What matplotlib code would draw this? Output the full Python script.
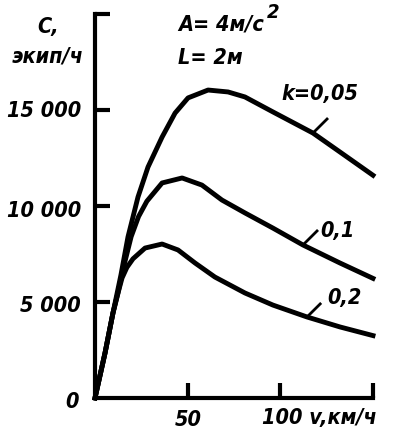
import matplotlib
matplotlib.use("Agg")
import matplotlib.pyplot as plt
from matplotlib import font_manager as fm

# speed v, km/h and capacity C, veh/h
v_005 = [0, 5.4, 9.7, 14.0, 17.8, 23.2, 28.6, 36.2, 43.2, 50.2, 61.0, 71.8, 80.9, 96.0, 117.6, 132.2, 150]
c_005 = [0, 2340, 4430, 6410, 8390, 10470, 12030, 13590, 14840, 15630, 16040, 15940, 15680, 14900, 13800, 12810, 11600]

v_01 = [0, 5.4, 9.7, 12.4, 15.5, 19.5, 23.5, 28.0, 36.2, 47.0, 57.7, 68.5, 80.9, 96.0, 112.2, 132.2, 150]
c_01 = [0, 2340, 4430, 5470, 6850, 8400, 9450, 10250, 11200, 11460, 11090, 10310, 9640, 8850, 7970, 7030, 6230]

v_02 = [0, 5.4, 9.7, 12.4, 14.6, 17.2, 20.5, 27.0, 36.2, 44.8, 54.0, 64.7, 80.9, 96.0, 114.4, 132.2, 150]
c_02 = [0, 2340, 4430, 5470, 6250, 6800, 7250, 7810, 8020, 7710, 7030, 6300, 5470, 4840, 4220, 3700, 3250]

k_labels = ["k=0,05", "0,1", "0,2"]

# a narrow bold italic face looks closest to the scan; fall back to Liberation Sans
narrow = [f for f in fm.fontManager.ttflist
          if "Narrow" in f.name or "Condensed" in f.name or "condensed" in str(f.stretch)]
if narrow:
    fam = narrow[0].name
    stretch = narrow[0].stretch
    fs = 15.5
else:
    fam = "Liberation Sans"
    stretch = "normal"
    fs = 15
font = dict(family=[fam, "DejaVu Sans"], weight="bold", style="italic", stretch=stretch)

fig = plt.figure(figsize=(4, 4.44), dpi=100)
ax = fig.add_axes([95/400, 1-398/444, (373-95)/400, (398-14)/444])

for v, c in [(v_005, c_005), (v_01, c_01), (v_02, c_02)]:
    ax.plot(v, c, color="black", lw=3.5, solid_joinstyle="round", clip_on=False)

ax.set_xlim(0, 150)
ax.set_ylim(0, 20000)
for s in ["top", "right"]:
    ax.spines[s].set_visible(False)
for s in ["left", "bottom"]:
    ax.spines[s].set_linewidth(3)
ax.set_xticks([50, 100, 150])
ax.set_yticks([5000, 10000, 15000, 20000])
ax.set_xticklabels([])
ax.set_yticklabels([])
ax.tick_params(direction="in", length=11, width=3)

# leader lines to the curve labels
leaders = [((117.6, 13800), (125.2, 14530)),
           ((112.2, 7970), (119.8, 8700)),
           ((114.4, 4220), (121.5, 4900))]
for a, b in leaders:
    ax.plot([a[0], b[0]], [a[1], b[1]], color="black", lw=2)

def t(x, y, s, ha="center", size=fs):
    fig.text(x/400, 1-y/444, s, ha=ha, va="center", fontsize=size, **font)

t(37, 27, "C,", ha="left")
t(48, 57, "экип/ч")
t(81, 111, "15 000", ha="right")
t(81, 211, "10 000", ha="right")
t(81, 306, "5 000", ha="right")
t(72, 402, "0")
t(188, 420, "50")
t(262, 418, "100 v,км/ч", ha="left")
t(178, 25, "A= 4м/с", ha="left")
t(267, 13, "2", ha="left", size=fs-1)
t(178, 58, "L= 2м", ha="left")
t(320, 94, k_labels[0])
t(337, 231, k_labels[1])
t(344, 298, k_labels[2])

fig.savefig("out.png", dpi=100)
